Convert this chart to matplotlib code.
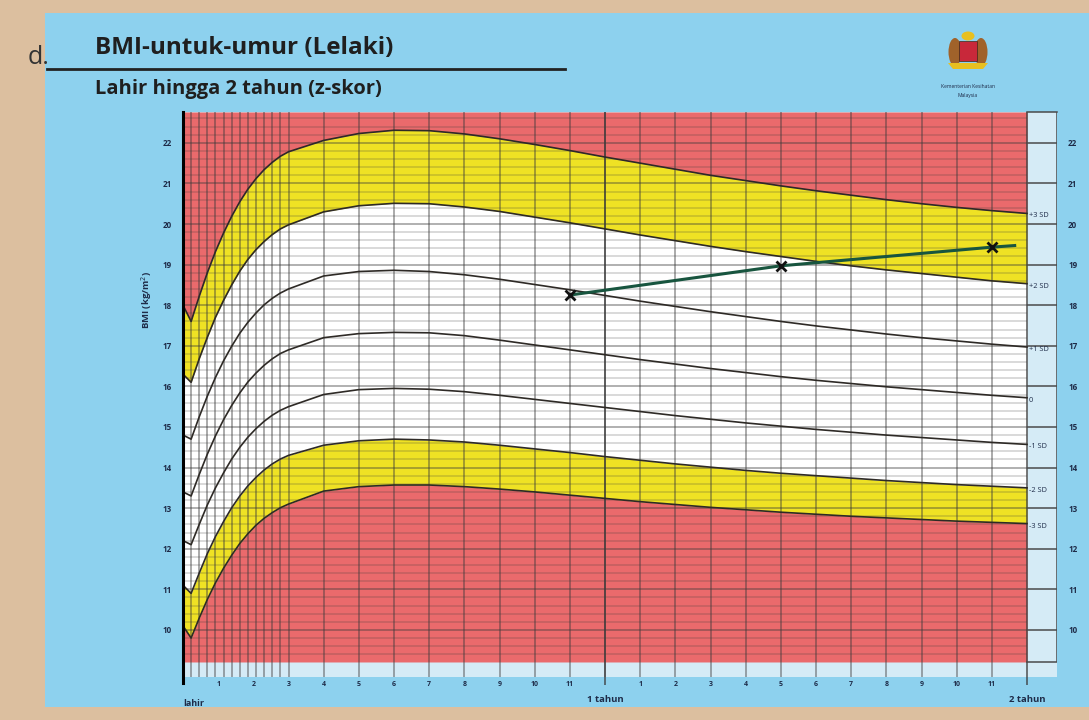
import numpy as np
import matplotlib
matplotlib.use('Agg')
import matplotlib.pyplot as plt
from matplotlib.patches import Rectangle, Ellipse, Polygon

plt.rcParams['font.family'] = ['Open Sans', 'DejaVu Sans']

# umur: minggu 0-13 (3 bulan pertama), kemudian bulan 4-24
age_weeks = np.arange(0, 14)
age_months = np.arange(4, 25)

# BMI z-skor (kg/m2), dibaca dari carta
sd3neg = [10.1, 9.8, 10.29, 10.75, 11.16, 11.52, 11.84, 12.13, 12.37, 12.58, 12.75, 12.89, 13.01, 13.1,
          13.42, 13.53, 13.57, 13.57, 13.53, 13.47, 13.4, 13.32, 13.24, 13.16, 13.09, 13.02,
          12.96, 12.9, 12.85, 12.8, 12.76, 12.72, 12.68, 12.65, 12.62]
sd2neg = [11.1, 10.9, 11.4, 11.88, 12.3, 12.67, 13.01, 13.3, 13.55, 13.76, 13.94, 14.09, 14.21, 14.3,
          14.55, 14.66, 14.7, 14.68, 14.63, 14.55, 14.46, 14.37, 14.27, 14.18, 14.09, 14.01,
          13.93, 13.86, 13.8, 13.74, 13.68, 13.63, 13.58, 13.54, 13.5]
sd1neg = [12.2, 12.1, 12.6, 13.08, 13.5, 13.87, 14.21, 14.5, 14.75, 14.96, 15.14, 15.29, 15.41, 15.5,
          15.8, 15.92, 15.95, 15.93, 15.87, 15.78, 15.68, 15.58, 15.48, 15.38, 15.28, 15.19,
          15.1, 15.02, 14.94, 14.87, 14.8, 14.74, 14.68, 14.62, 14.57]
sd0 = [13.4, 13.3, 13.83, 14.33, 14.78, 15.18, 15.53, 15.84, 16.11, 16.33, 16.52, 16.68, 16.81, 16.9,
       17.2, 17.3, 17.33, 17.32, 17.25, 17.14, 17.02, 16.9, 16.78, 16.66, 16.55, 16.44,
       16.34, 16.24, 16.15, 16.07, 15.99, 15.92, 15.85, 15.78, 15.72]
sd1 = [14.8, 14.7, 15.25, 15.76, 16.22, 16.63, 16.99, 17.31, 17.58, 17.81, 18.01, 18.17, 18.3, 18.4,
       18.72, 18.83, 18.86, 18.83, 18.75, 18.64, 18.51, 18.38, 18.24, 18.1, 17.97, 17.84,
       17.72, 17.6, 17.49, 17.39, 17.29, 17.2, 17.12, 17.04, 16.97]
sd2 = [16.3, 16.1, 16.68, 17.21, 17.7, 18.12, 18.5, 18.84, 19.13, 19.37, 19.57, 19.74, 19.88, 19.98,
       20.3, 20.45, 20.51, 20.5, 20.42, 20.31, 20.17, 20.03, 19.88, 19.73, 19.59, 19.45,
       19.32, 19.2, 19.08, 18.97, 18.87, 18.78, 18.69, 18.6, 18.53]
sd3 = [18.0, 17.6, 18.22, 18.8, 19.32, 19.78, 20.19, 20.55, 20.86, 21.12, 21.34, 21.52, 21.67, 21.78,
       22.06, 22.23, 22.31, 22.3, 22.22, 22.1, 21.96, 21.81, 21.65, 21.5, 21.35, 21.2,
       21.07, 20.94, 20.82, 20.71, 20.6, 20.5, 20.41, 20.33, 20.26]
sd_labels = ['-3 SD', '-2 SD', '-1 SD', '0', '+1 SD', '+2 SD', '+3 SD']

# rekod kanak-kanak
child_months = [11, 17, 23]
child_bmi = [18.25, 18.97, 19.43]
child_line_months = [11, 17, 23, 23.65]
child_line_bmi = [18.25, 18.97, 19.43, 19.47]

x_ticks = [1, 2, 3, 4, 5, 6, 7, 8, 9, 10, 11, 13, 14, 15, 16, 17, 18, 19, 20, 21, 22, 23]
x_ticklabels = ['1', '2', '3', '4', '5', '6', '7', '8', '9', '10', '11'] * 2
y_ticks = list(range(10, 23))

TAN = '#dcbf9f'
BLUE = '#8dd1ee'
LIGHT = '#d5ebf6'
RED = '#ea6a6c'
YELLOW = '#efe224'
TXT = '#1e2b48'

x = np.concatenate([age_weeks * 3 / 13, age_months])
W, H = 1089, 720

fig = plt.figure(figsize=(W / 100, H / 100), dpi=100, facecolor=TAN)
fig.patches.append(Rectangle((45 / W, 13 / H), 1 - 45 / W, (707 - 13) / H,
                             transform=fig.transFigure, facecolor=BLUE, edgecolor='none', zorder=-10))

ax = fig.add_axes([183 / W, 43 / H, 874 / W, 565 / H])
ax.set_zorder(1)
ax.set_facecolor(LIGHT)
y_bot, y_top = 8.84, 22.76
red_bot = 9.21
ax.set_xlim(0, 24.853)
ax.set_ylim(y_bot, y_top)

ax.fill_between(x, red_bot, sd3neg, color=RED, lw=0, zorder=1)
ax.fill_between(x, sd3neg, sd2neg, color=YELLOW, lw=0, zorder=1)
ax.fill_between(x, sd2neg, sd2, color='white', lw=0, zorder=1)
ax.fill_between(x, sd2, sd3, color=YELLOW, lw=0, zorder=1)
ax.fill_between(x, sd3, y_top, color=RED, lw=0, zorder=1)

# grid
hy = np.arange(9.4, 22.75, 0.2)
ax.hlines(hy, 0, 24, color='#3a3a3a', alpha=0.24, lw=1.1, zorder=2)
ax.hlines(y_ticks, 0, 24, color='#3a3a3a', alpha=0.32, lw=1.1, zorder=2)
vx = np.concatenate([age_weeks[1:] * 3 / 13, np.arange(4, 24)])
ax.vlines(vx, y_bot, y_top, color='#3a3a3a', alpha=0.5, lw=1.2, zorder=2)
ax.vlines([12, 24], 8.64, y_top, color='#3a3a3a', alpha=0.75, lw=1.3, zorder=2, clip_on=False)

# panel kanan
ax.hlines(y_ticks, 24, 24.853, color='#4a4a4a', lw=1.1, zorder=2)
ax.plot([24.853, 24.853, 24], [y_top, red_bot, red_bot], color='#4a4a4a', lw=1.1, zorder=2)
ax.plot([24, 24.853], [y_top, y_top], color='#4a4a4a', lw=1.1, zorder=2, clip_on=False)

for s in [sd3neg, sd2neg, sd1neg, sd0, sd1, sd2, sd3]:
    ax.plot(x, s, color='#2e2a26', lw=1.2, zorder=3)

for s, lab in zip([sd3neg, sd2neg, sd1neg, sd0, sd1, sd2, sd3], sd_labels):
    ax.text(24.06, s[-1] - 0.06, lab, fontsize=5.3, color=TXT, ha='left', va='center', zorder=4)

ax.plot(child_line_months, child_line_bmi, color='#18553f', lw=2.2, zorder=4)
ax.plot(child_months, child_bmi, ls='none', marker='x', color='#111111', ms=7, mew=2, zorder=5)

for sp in ax.spines.values():
    sp.set_visible(False)
ax.plot([0, 0], [8.69, y_top], color='black', lw=2.2, zorder=5, clip_on=False)

ax.set_yticks(y_ticks)
ax.set_yticklabels([str(v) for v in y_ticks])
ax.tick_params(axis='y', length=0, pad=8, labelsize=5.8, labelcolor=TXT, right=False, labelright=True)
ax.tick_params(axis='y', which='major', labelright=True)
for lab in ax.get_yticklabels():
    lab.set_fontweight('bold')
for t in ax.yaxis.get_major_ticks():
    t.set_pad(8)
    t.label2.set_x(1.0)
ax.yaxis.set_tick_params(which='major', pad=8)
ax.set_xticks(x_ticks)
ax.set_xticklabels(x_ticklabels, fontsize=5, fontweight='bold', color=TXT)
ax.tick_params(axis='x', length=0, pad=3)

ax.annotate('lahir', xy=(0, 17), xycoords=('data', 'figure pixels'), fontsize=6.5,
            fontweight='bold', color=TXT, ha='left', va='center')
ax.annotate('1 tahun', xy=(12, 20), xycoords=('data', 'figure pixels'), fontsize=6.8,
            fontweight='bold', color=TXT, ha='center', va='center')
ax.annotate('2 tahun', xy=(24, 20), xycoords=('data', 'figure pixels'), fontsize=6.8,
            fontweight='bold', color=TXT, ha='center', va='center')

fig.text(147 / W, 1 - 300 / H, 'BMI (kg/m$^2$)', rotation=90, fontsize=6.8, fontweight='bold',
         color=TXT, ha='center', va='center')

# judul
fig.text(28 / W, 1 - 57 / H, 'd.', fontsize=18, color='#333333', ha='left', va='center')
fig.text(95 / W, 1 - 48 / H, 'BMI-untuk-umur (Lelaki)', fontsize=17.5, fontweight='bold',
         color='#1f1f1f', ha='left', va='center')
fig.lines.append(plt.Line2D([47 / W, 565 / W], [1 - 69 / H, 1 - 69 / H], transform=fig.transFigure,
                            color='#222222', lw=2))
fig.text(95 / W, 1 - 89 / H, 'Lahir hingga 2 tahun (z-skor)', fontsize=14.5, fontweight='bold',
         color='#1f1f1f', ha='left', va='center')

# logo
cx, cy = 968, 50
def fp(px, py):
    return (px / W, 1 - py / H)
fig.patches.append(Ellipse(fp(cx - 13, cy + 2), 13 / W, 28 / H, transform=fig.transFigure,
                           facecolor='#a0622a', edgecolor='none'))
fig.patches.append(Ellipse(fp(cx + 13, cy + 2), 13 / W, 28 / H, transform=fig.transFigure,
                           facecolor='#a0622a', edgecolor='none'))
fig.patches.append(Rectangle(fp(cx - 9, cy + 11), 18 / W, 20 / H, transform=fig.transFigure,
                             facecolor='#c8283a', edgecolor='#3a2a1a', lw=0.5))
fig.patches.append(Ellipse(fp(cx, cy - 14), 13 / W, 9 / H, transform=fig.transFigure,
                           facecolor='#e8c020', edgecolor='none'))
fig.patches.append(Polygon([fp(cx - 20, cy + 13), fp(cx + 20, cy + 13), fp(cx + 15, cy + 19),
                            fp(cx - 15, cy + 19)], closed=True, transform=fig.transFigure,
                           facecolor='#e8c020', edgecolor='none'))
fig.text(968 / W, 1 - 86 / H, 'Kementerian Kesihatan', fontsize=3.6, color=TXT, ha='center', va='center')
fig.text(968 / W, 1 - 96 / H, 'Malaysia', fontsize=3.6, color=TXT, ha='center', va='center')

fig.savefig('out.png', dpi=100, facecolor=TAN)
